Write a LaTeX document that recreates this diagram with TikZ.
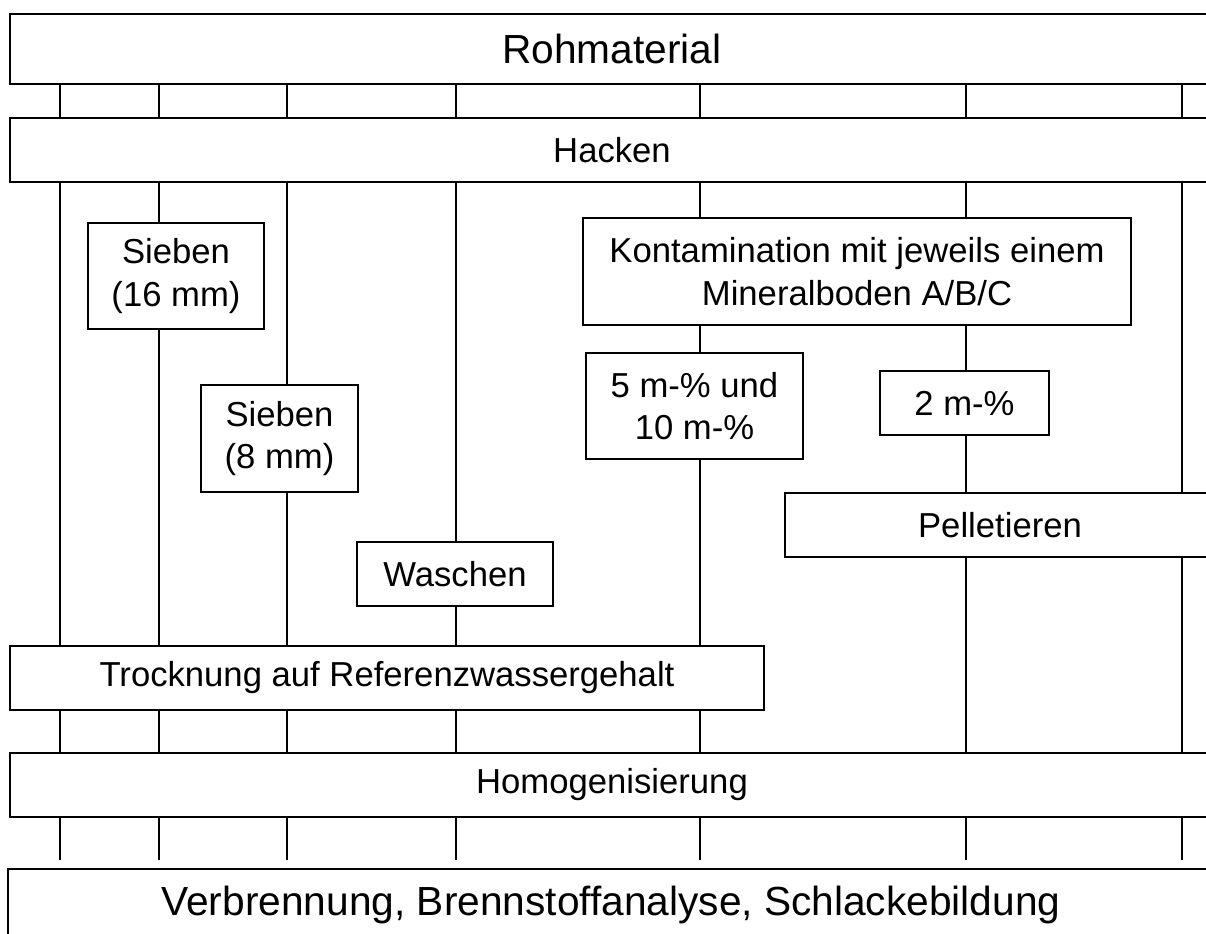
\documentclass[tikz,border=0pt]{standalone}
\usepackage{fontspec}
\setmainfont{Liberation Sans}
\begin{document}
\begin{tikzpicture}[x=0.75pt,y=-0.75pt,
  box/.style={draw=black,line width=1.1pt,fill=white,align=center,inner sep=0pt,
    font=\fontsize{26}{32}\selectfont},
  bigbox/.style={draw=black,line width=2.2pt,fill=white,align=center,inner sep=0pt,
    font=\fontsize{30.5}{36}\selectfont},
  link/.style={line width=2.1pt,black}]
\useasboundingbox (0,0) rectangle (1206,934);
\clip (0,0) rectangle (1206,934);
% nodes
\node[bigbox,minimum width=903pt,minimum height=52.5pt] (roh) at (612,49) {Rohmaterial};
\node[box,minimum width=903pt,minimum height=48pt] (hack) at (612,150) {Hacken};
\node[box,minimum width=132pt,minimum height=79.5pt] (s16) at (176,276) {Sieben\\(16 mm)};
\node[box,minimum width=117.75pt,minimum height=80.25pt] (s8) at (279.5,438.5) {Sieben\\(8 mm)};
\node[box,minimum width=147pt,minimum height=48pt] (wasch) at (455,574) {Waschen};
\node[box,minimum width=411pt,minimum height=80.25pt] (kont) at (857,271.5) {Kontamination mit jeweils einem\\Mineralboden A/B/C};
\node[box,minimum width=162.75pt,minimum height=79.5pt] (m510) at (694.5,406) {5 m-\% und\\10 m-\%};
\node[box,minimum width=126.75pt,minimum height=48pt] (m2) at (964.5,403) {2 m-\%};
\node[box,minimum width=322.5pt,minimum height=48pt] (pel) at (1000,525) {Pelletieren};
\node[box,minimum width=565.5pt,minimum height=48pt] (trock) at (387,678) {Trocknung auf Referenzwassergehalt};
\node[box,minimum width=903pt,minimum height=48pt] (homog) at (612,785) {Homogenisierung};
\node[bigbox,minimum width=904.5pt,minimum height=54pt] (verb) at (611,905) {Verbrennung, Brennstoffanalyse, Schlackebildung};
% column coordinates
\coordinate (c1) at (60,0);
\coordinate (c2) at (159,0);
\coordinate (c3) at (287,0);
\coordinate (c4) at (456,0);
\coordinate (c5) at (700,0);
\coordinate (c6) at (966,0);
\coordinate (c7) at (1182,0);
\coordinate (lineend) at (0,860);
% top links
\foreach \c in {c1,c2,c3,c4,c5,c6,c7}{
  \draw[link] (roh.south -| \c) -- (hack.north -| \c);
  \draw[link] (homog.south -| \c) -- (lineend -| \c);
}
\foreach \c in {c1,c2,c3,c4,c5}{
  \draw[link] (trock.south -| \c) -- (homog.north -| \c);
}
% column 1
\draw[link] (hack.south -| c1) -- (trock.north -| c1);
% column 2
\draw[link] (hack.south -| c2) -- (s16.north -| c2);
\draw[link] (s16.south -| c2) -- (trock.north -| c2);
% column 3
\draw[link] (hack.south -| c3) -- (s8.north -| c3);
\draw[link] (s8.south -| c3) -- (trock.north -| c3);
% column 4
\draw[link] (hack.south -| c4) -- (wasch.north -| c4);
\draw[link] (wasch.south -| c4) -- (trock.north -| c4);
% column 5
\draw[link] (hack.south -| c5) -- (kont.north -| c5);
\draw[link] (kont.south -| c5) -- (m510.north -| c5);
\draw[link] (m510.south -| c5) -- (trock.north -| c5);
% column 6
\draw[link] (hack.south -| c6) -- (kont.north -| c6);
\draw[link] (kont.south -| c6) -- (m2.north -| c6);
\draw[link] (m2.south -| c6) -- (pel.north -| c6);
\draw[link] (pel.south -| c6) -- (homog.north -| c6);
% column 7
\draw[link] (hack.south -| c7) -- (pel.north -| c7);
\draw[link] (pel.south -| c7) -- (homog.north -| c7);
\end{tikzpicture}
\end{document}
